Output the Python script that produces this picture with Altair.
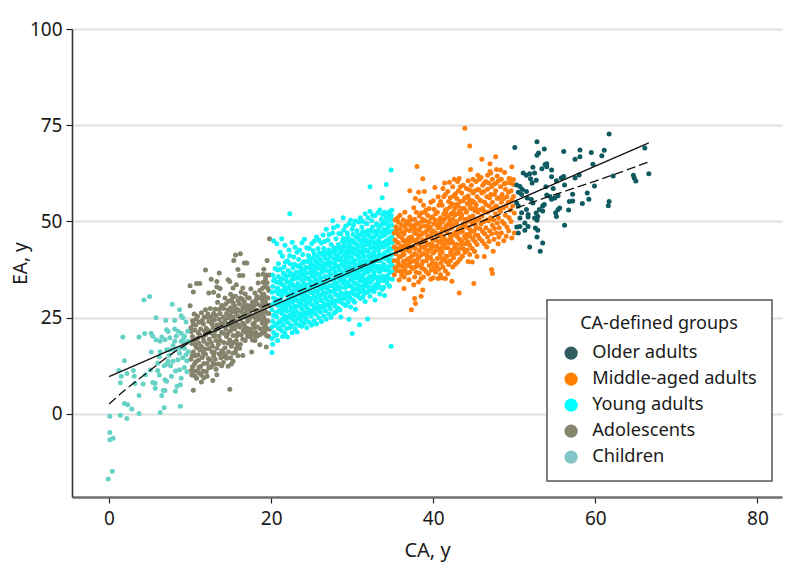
import altair as alt
import pandas as pd

children = [(-0.1,-16.9),(0.4,-14.9),(0.1,-6.7),(0.5,-6.3),(0.1,-4.8),(0.1,-0.6),(1.4,-0.3),(2.2,-1.2),(2.8,1.3),(3.7,0.1),
(1.9,2.7),(2.3,2.4),(3.7,4.8),(6.3,0.4),(6.8,1.6),(8.8,2.0),(1.4,8.1),(1.5,9.8),(1.2,11.3),(2.2,10.5),(3.0,11.3),(1.9,13.8),
(3.1,9.8),(3.2,7.9),(4.2,7.8),(4.5,10.2),(5.1,11.4),(5.4,8.2),(5.7,8.0),(5.7,6.7),(6.0,11.3),(6.2,10.1),(6.9,8.9),(7.1,8.5),
(6.7,6.1),(6.9,6.1),(6.5,4.8),(8.2,5.9),(8.4,7.2),(8.8,7.6),(8.9,9.3),(8.2,11.2),(8.7,11.5),(9.3,12.1),(7.7,9.8),(6.8,12.5),
(7.1,12.9),(7.6,12.5),(7.3,13.7),(7.9,13.7),(8.5,14.1),(6.0,13.2),(6.2,14.9),(6.3,16.2),(5.2,16.1),(7.1,16.7),(7.5,16.7),
(8.1,16.7),(8.7,17.1),(9.3,17.1),(9.5,15.4),(9.1,14.6),(8.7,15.8),(6.9,19.3),(7.1,21.9),(7.3,21.4),(7.0,24.3),(8.1,24.3),
(8.9,25.5),(8.7,27.1),(7.8,28.5),(5.0,30.5),(4.3,29.6),(5.8,25.0),(1.7,20.0),(3.7,20.0),(4.4,20.9),(5.2,21.0),(5.4,20.2),
(5.8,19.3),(6.3,18.9),(6.5,20.0),(8.1,22.1),(8.5,21.5),(8.9,21.0),(9.3,20.2),(9.7,21.5),(8.3,20.2),(8.9,18.9),(8.1,18.9),
(9.3,18.4),(7.9,17.8),(9.5,23.9),(9.1,25.0),(9.6,13.8),(9.8,16.2),(9.2,19.6),(7.5,19.8),(7.4,15.2),(9.8,18.9),(9.6,11.0)]

adolescents = [(10.4,6.2),(14.9,6.4),(11.4,8.3),(12.8,8.7),(13.3,10.2),(11.9,37.4),(13.6,36.6),(10.0,33.3),(10.8,33.9),(11.2,33.9),
(10.4,31.7),(10.0,28.1),(12.6,35.0),(13.3,34.4),(13.3,33.0),(13.7,32.6),(12.3,31.4),(12.9,31.6),(13.5,30.7),(14.7,34.9),(14.9,34.4),
(15.6,41.3),(16.2,41.6),(15.4,39.9),(16.7,39.2),(17.0,39.2),(15.9,37.5),(16.1,36.0),(16.5,36.0),(15.7,33.6),(15.3,32.7),(16.5,32.7),
(17.5,32.5),(18.4,36.2),(19.0,36.3),(19.4,36.1),(19.1,37.6),(19.5,39.9),(19.8,45.5),(18.4,34.0),(19.0,34.2),(18.0,31.4),(19.0,29.7),
(17.6,16.1),(18.6,18.0),(19.4,17.4),(16.5,15.2),(15.9,15.1),(15.3,13.7),(14.5,14.5),(13.9,12.5),(14.7,12.4),(15.1,13.0),(16.1,17.1),(15.7,17.0),
(10.2,10.1),(10.3,12.3),(10.1,14.2),(10.4,16.1),(10.2,18.3),(10.3,20.1),(10.1,22.4),(10.3,24.2),(10.5,26.0),
(10.8,9.3),(10.9,11.2),(10.7,13.6),(11.0,15.4),(10.8,17.2),(10.9,19.6),(11.0,21.1),(10.7,23.1),(10.9,25.4),
(11.4,10.1),(11.3,12.4),(11.5,14.7),(11.4,17.5),(11.6,19.8),(11.3,22.1),(11.5,24.2),(11.4,26.3),
(12.0,11.0),(12.1,13.1),(11.9,15.5),(12.1,18.2),(11.9,20.6),(12.0,22.3),(12.1,25.1),(11.9,27.1),
(12.6,12.2),(12.5,14.1),(12.7,16.2),(12.6,18.6),(12.5,21.1),(12.7,23.4),(12.6,25.2),(12.5,27.4),
(13.2,11.6),(13.1,14.2),(13.3,17.1),(13.2,19.1),(13.1,21.6),(13.3,23.1),(13.2,25.6),(13.1,27.2),(13.4,29.0),
(13.8,14.6),(13.9,16.4),(13.7,19.1),(13.9,21.2),(13.8,23.6),(13.7,26.1),(13.9,28.2),
(14.4,15.1),(14.3,17.2),(14.5,20.1),(14.4,22.1),(14.3,24.2),(14.5,26.1),(14.4,28.6),(14.3,30.1),
(15.0,14.6),(15.1,17.6),(14.9,19.2),(15.0,21.6),(15.1,24.1),(14.9,25.6),(15.0,27.6),(15.1,29.6),(15.0,31.1),
(15.6,16.1),(15.7,19.1),(15.5,22.1),(15.6,24.1),(15.7,26.2),(15.5,28.1),(15.6,30.6),
(16.2,18.1),(16.3,20.6),(16.1,22.6),(16.2,24.6),(16.3,26.6),(16.1,28.6),(16.2,30.1),(16.3,31.6),
(16.8,19.1),(16.9,21.2),(16.7,23.1),(16.8,25.2),(16.9,27.1),(16.7,29.1),(16.8,31.2),
(17.4,20.1),(17.5,22.1),(17.3,24.6),(17.4,26.6),(17.5,28.1),(17.3,30.1),
(18.0,19.1),(18.1,21.2),(17.9,23.6),(18.0,27.1),(18.1,29.6),
(18.6,20.6),(18.7,22.1),(18.5,24.6),(18.6,26.1),(18.7,28.1),(18.5,30.1),(18.6,32.1),
(19.2,21.1),(19.3,23.1),(19.1,25.1),(19.2,27.1),(19.3,29.1),(19.1,31.1),(19.2,33.1),(19.3,35.1),
(19.7,20.1),(19.8,22.1),(19.6,24.1),(19.7,26.1),(19.8,28.1),(19.6,30.1),(19.7,32.1),(19.8,36.1),
(10.5,11.1),(10.6,15.1),(10.6,19.1),(11.1,12.1),(11.2,16.6),(11.2,20.6),(11.7,13.1),(11.8,21.5),(11.8,16.8),(12.3,12.0),(12.3,17.0),(12.3,24.0),(12.9,15.1),(12.9,20.2),(12.9,26.1),
(13.5,13.0),(13.5,18.1),(13.5,22.2),(13.6,24.6),(14.1,16.0),(14.1,21.0),(14.1,25.2),(14.7,18.4),(14.7,23.1),(14.7,27.0),(15.3,20.4),(15.3,25.1),(15.3,28.8),(15.9,21.0),(15.9,27.1),(15.9,29.4),
(16.5,23.6),(16.5,27.6),(17.1,20.1),(17.1,24.1),(17.1,28.2),(17.7,21.1),(17.7,25.4),(17.7,29.0),(18.3,25.1),(18.3,28.6),(18.9,23.6),(18.9,27.1),(18.9,31.1),(19.5,22.1),(19.5,28.2),(19.5,34.1),(16.5,19.4),(14.1,13.4),(12.1,9.8),(11.7,9.4),
(10.15,11.3),(10.25,15.2),(10.35,19.3),(10.15,21.4),(10.4,23.3),(10.6,9.9),(10.55,13.0),(10.65,17.9),(10.6,21.8),(10.75,24.6),(11.15,10.6),(11.05,14.0),(11.1,18.4),(11.15,23.8),(11.6,11.2),(11.65,15.9),(11.7,18.9),(11.65,23.4),(11.75,25.2),
(12.25,14.4),(12.35,19.4),(12.3,21.6),(12.2,26.0),(12.85,13.1),(12.75,17.6),(12.85,22.4),(12.8,24.4),(13.05,12.9),(13.0,16.0),(13.05,20.4),(13.0,24.4),(13.6,15.6),(13.55,20.2),(13.6,27.2),(14.05,14.9),(14.15,18.6),(14.1,23.2),(14.15,27.4),
(14.75,16.1),(14.65,20.9),(14.7,25.0),(14.7,29.2),(15.3,15.8),(15.35,18.6),(15.25,22.9),(15.35,26.9),(15.3,30.4),(15.85,18.0),(15.95,23.2),(15.9,25.4),(16.55,21.7),(16.5,25.6),(16.45,29.8),(17.05,22.3),(17.1,26.3),(17.1,30.2),
(17.7,19.2),(17.75,23.4),(17.7,27.4),(18.25,20.2),(18.3,22.6),(18.35,26.8),(18.25,30.5),(18.9,21.0),(18.85,25.4),(18.95,29.2),(18.9,32.6),(19.45,20.3),(19.5,24.2),(19.45,26.3),(19.5,30.2),(19.55,32.8),(19.4,36.0),
(15.15,18.5),(15.15,22.6),(15.15,26.5),(15.75,20.3),(15.75,23.1),(15.75,27.2),(16.65,22.0),(16.65,26.0),(16.65,28.0),(17.25,21.2),(17.25,25.6),(17.25,27.4),(17.95,20.4),(17.95,22.4),(17.95,25.2),(17.95,28.4),(18.15,24.4),(18.15,26.2),(19.05,22.2),(19.05,24.2),(19.05,26.4),(19.05,28.2),(19.05,30.4)]

young = [(22.3,52.0),(32.2,59.0),(34.2,59.6),(33.7,56.2),(34.8,63.4),(34.8,17.6),(30.0,20.9),(30.9,23.2),(31.9,24.7),(29.6,24.6),
(20.1,16.0),(20.2,18.1),(20.1,19.6),(20.3,21.2),(20.1,22.6),(20.2,24.1),(20.3,25.6),(20.1,27.1),(20.2,28.6),(20.3,30.1),(20.1,31.6),(20.2,33.1),(20.3,34.6),(20.2,36.1),(20.3,45.0),(20.7,44.2),
(20.8,19.1),(20.7,20.6),(20.9,22.2),(20.8,23.6),(20.7,25.2),(20.9,26.7),(20.8,28.2),(20.7,29.7),(20.9,31.2),(20.8,32.7),(20.7,34.2),(20.9,35.7),(20.8,37.4),(20.9,39.0),
(21.4,20.1),(21.3,21.6),(21.5,23.1),(21.4,24.6),(21.3,26.1),(21.5,27.6),(21.4,29.1),(21.3,30.6),(21.5,32.1),(21.4,33.6),(21.3,35.1),(21.5,36.6),(21.4,41.0),(21.3,45.5),(21.6,38.2),
(22.0,20.0),(21.9,22.2),(22.1,23.7),(22.0,25.2),(21.9,26.7),(22.1,28.2),(22.0,29.7),(21.9,31.2),(22.1,32.7),(22.0,34.2),(21.9,35.7),(22.1,37.2),(22.0,39.8),(22.2,42.6),
(22.6,21.1),(22.5,23.0),(22.7,24.5),(22.6,26.0),(22.5,27.5),(22.7,29.0),(22.6,30.5),(22.5,32.0),(22.7,33.5),(22.6,35.0),(22.5,36.5),(22.7,38.0),(22.6,44.6),(22.8,40.8),
(23.2,21.3),(23.1,23.4),(23.3,24.9),(23.2,26.4),(23.1,27.9),(23.3,29.4),(23.2,30.9),(23.1,32.4),(23.3,33.9),(23.2,35.4),(23.1,36.9),(23.3,38.4),(23.2,42.0),(23.4,40.1),
(23.8,22.8),(23.7,24.2),(23.9,25.7),(23.8,27.2),(23.7,28.7),(23.9,30.2),(23.8,31.7),(23.7,33.2),(23.9,34.7),(23.8,36.2),(23.7,37.7),(23.9,39.2),(23.8,44.5),(23.9,41.4),
(24.4,22.4),(24.3,24.6),(24.5,26.1),(24.4,27.6),(24.3,29.1),(24.5,30.6),(24.4,32.1),(24.3,33.6),(24.5,35.1),(24.4,36.6),(24.3,38.1),(24.5,39.6),(24.4,43.2),(24.6,41.2),
(25.0,23.1),(24.9,25.4),(25.1,26.9),(25.0,28.4),(24.9,29.9),(25.1,31.4),(25.0,32.9),(24.9,34.4),(25.1,35.9),(25.0,37.4),(24.9,38.9),(25.1,40.4),(25.0,44.2),(25.2,42.4),
(25.6,23.4),(25.5,25.9),(25.7,27.4),(25.6,28.9),(25.5,30.4),(25.7,31.9),(25.6,33.4),(25.5,34.9),(25.7,36.4),(25.6,37.9),(25.5,39.4),(25.7,40.9),(25.6,46.0),(25.8,43.0),
(26.2,24.0),(26.1,26.4),(26.3,27.9),(26.2,29.4),(26.1,30.9),(26.3,32.4),(26.2,33.9),(26.1,35.4),(26.3,36.9),(26.2,38.4),(26.1,39.9),(26.3,41.4),(26.2,44.4),(26.4,46.5),(26.5,43.0),
(26.8,24.6),(26.7,26.8),(26.9,28.3),(26.8,29.8),(26.7,31.3),(26.9,32.8),(26.8,34.3),(26.7,35.8),(26.9,37.3),(26.8,38.8),(26.7,40.3),(26.9,41.8),(26.8,48.0),(27.0,45.2),
(27.4,25.1),(27.3,27.3),(27.5,28.8),(27.4,30.3),(27.3,31.8),(27.5,33.3),(27.4,34.8),(27.3,36.3),(27.5,37.8),(27.4,39.3),(27.3,40.8),(27.5,42.3),(27.4,44.0),(27.6,50.2),(27.6,47.0),
(28.0,26.6),(27.9,28.0),(28.1,29.5),(28.0,31.0),(27.9,32.5),(28.1,34.0),(28.0,35.5),(27.9,37.0),(28.1,38.5),(28.0,40.0),(27.9,41.5),(28.1,43.0),(28.0,45.5),(28.2,48.8),
(28.6,25.2),(28.5,27.0),(28.7,29.9),(28.6,31.4),(28.5,32.9),(28.7,34.4),(28.6,35.9),(28.5,37.4),(28.7,38.9),(28.6,40.4),(28.5,41.9),(28.7,43.4),(28.6,46.8),(28.8,44.9),(28.9,51.0),
(29.2,28.2),(29.1,30.0),(29.3,31.5),(29.2,33.0),(29.1,34.5),(29.3,36.0),(29.2,37.5),(29.1,39.0),(29.3,40.5),(29.2,42.0),(29.1,43.5),(29.3,45.0),(29.2,48.8),(29.4,47.0),
(29.8,27.8),(29.7,30.2),(29.9,31.7),(29.8,33.2),(29.7,34.7),(29.9,36.2),(29.8,37.7),(29.7,39.2),(29.9,40.7),(29.8,42.2),(29.7,43.7),(29.9,45.2),(29.8,50.3),(30.0,48.0),(30.1,46.6),
(30.4,27.2),(30.3,29.0),(30.5,32.4),(30.4,33.9),(30.3,35.4),(30.5,36.9),(30.4,38.4),(30.3,39.9),(30.5,41.4),(30.4,42.9),(30.3,44.4),(30.5,45.9),(30.4,50.1),(30.6,47.6),(30.4,31.0),
(31.0,30.0),(30.9,31.6),(31.1,33.1),(31.0,34.6),(30.9,36.1),(31.1,37.6),(31.0,39.1),(30.9,40.6),(31.1,42.1),(31.0,43.6),(30.9,45.1),(31.1,46.6),(31.0,51.0),(31.2,48.6),
(31.6,29.2),(31.5,31.3),(31.7,33.4),(31.6,34.9),(31.5,36.4),(31.7,37.9),(31.6,39.4),(31.5,40.9),(31.7,42.4),(31.6,43.9),(31.5,45.4),(31.7,46.9),(31.6,52.0),(31.8,49.4),
(32.2,30.6),(32.1,32.4),(32.3,34.2),(32.2,35.7),(32.1,37.2),(32.3,38.7),(32.2,40.2),(32.1,41.7),(32.3,43.2),(32.2,44.7),(32.1,46.2),(32.3,47.7),(32.2,52.6),(32.4,50.2),
(32.8,29.6),(32.7,31.8),(32.9,33.6),(32.8,35.4),(32.7,36.9),(32.9,38.4),(32.8,39.9),(32.7,41.4),(32.9,42.9),(32.8,44.4),(32.7,45.9),(32.9,47.4),(32.8,51.5),(33.0,49.4),
(33.4,31.2),(33.3,33.4),(33.5,35.4),(33.4,36.9),(33.3,38.4),(33.5,39.9),(33.4,41.4),(33.3,42.9),(33.5,44.4),(33.4,45.9),(33.3,47.4),(33.5,48.9),(33.4,53.0),(33.6,50.6),
(34.0,30.8),(33.9,32.9),(34.1,35.0),(34.0,37.4),(33.9,38.9),(34.1,40.4),(34.0,41.9),(33.9,43.4),(34.1,44.9),(34.0,46.4),(33.9,47.9),(34.1,49.4),(34.0,52.4),(34.2,51.0),
(34.6,33.2),(34.5,35.2),(34.7,36.8),(34.6,38.3),(34.5,39.8),(34.7,41.3),(34.6,42.8),(34.5,44.3),(34.7,45.8),(34.6,47.3),(34.5,48.8),(34.7,50.3),(34.6,52.5),
(34.95,35.0),(34.9,37.0),(34.95,38.5),(34.9,40.0),(34.95,41.5),(34.9,43.0),(34.95,44.5),(34.9,46.0),(34.95,47.5),(34.9,49.0),(34.95,50.5),(34.9,53.0),
(20.5,20.4),(20.45,23.0),(20.55,26.3),(20.5,29.0),(20.6,31.9),(20.4,35.0),(20.5,37.8),(21.1,22.4),(21.05,24.0),(21.15,27.0),(21.1,29.4),(21.0,32.0),(21.15,34.6),(21.1,37.6),(21.1,42.0),
(21.7,21.0),(21.65,25.4),(21.75,28.6),(21.7,31.6),(21.7,33.0),(21.65,36.2),(21.75,39.4),(21.7,43.8),(22.3,22.4),(22.35,25.7),(22.3,28.8),(22.25,30.6),(22.35,33.3),(22.3,36.1),(22.35,39.0),(22.3,41.1),
(22.95,22.1),(22.9,25.6),(22.85,27.9),(22.9,31.2),(22.95,33.0),(22.85,36.0),(22.9,38.9),(22.95,43.3),(23.5,23.0),(23.55,26.0),(23.45,28.3),(23.5,31.0),(23.6,33.2),(23.5,36.0),(23.55,38.6),(23.5,42.6),
(24.1,23.6),(24.05,26.4),(24.15,29.6),(24.1,31.1),(24.05,33.9),(24.15,36.9),(24.1,39.6),(24.1,45.4),(24.7,23.8),(24.65,27.0),(24.75,30.0),(24.7,32.4),(24.65,35.2),(24.75,37.9),(24.7,40.6),(24.7,43.0),
(25.3,24.2),(25.35,27.7),(25.25,30.3),(25.3,33.0),(25.35,35.6),(25.25,38.4),(25.3,41.4),(25.3,44.9),(25.9,25.0),(25.95,28.0),(25.85,31.0),(25.9,33.8),(25.95,36.2),(25.85,38.9),(25.9,41.8),(25.9,45.1),
(26.5,25.4),(26.55,28.6),(26.45,31.4),(26.5,34.0),(26.55,37.4),(26.5,39.0),(26.45,42.0),(26.6,44.8),(27.1,26.0),(27.15,29.1),(27.05,32.0),(27.1,34.9),(27.15,37.0),(27.05,39.8),(27.1,42.6),(27.15,46.6),
(27.75,26.2),(27.7,29.4),(27.8,32.2),(27.75,35.0),(27.7,37.8),(27.8,40.3),(27.75,43.2),(27.7,48.4),(28.3,27.4),(28.35,30.6),(28.25,33.2),(28.3,36.2),(28.35,38.2),(28.25,41.0),(28.3,44.0),(28.35,46.9),
(28.9,28.6),(28.95,31.2),(28.85,34.0),(28.9,36.6),(28.95,39.7),(28.85,42.4),(28.9,45.6),(28.95,47.8),(29.5,29.0),(29.55,31.0),(29.45,33.9),(29.5,36.8),(29.55,39.6),(29.5,42.9),(29.45,45.9),(29.6,49.4),
(30.1,29.6),(30.15,32.6),(30.05,35.0),(30.1,37.9),(30.15,40.0),(30.05,43.1),(30.1,44.9),(30.15,49.1),(30.7,30.6),(30.75,33.4),(30.65,36.0),(30.7,38.6),(30.75,41.0),(30.65,43.9),(30.7,46.4),(30.8,49.9),
(31.3,30.4),(31.35,33.0),(31.25,35.6),(31.3,38.4),(31.35,41.4),(31.25,44.6),(31.3,47.4),(31.35,50.0),(31.9,31.6),(31.95,34.2),(31.85,36.9),(31.9,39.6),(31.95,42.6),(31.85,45.0),(31.9,47.6),(31.95,51.0),
(32.5,32.0),(32.55,35.0),(32.45,37.8),(32.5,40.8),(32.55,43.4),(32.45,45.8),(32.5,48.6),(32.55,51.6),(33.1,32.8),(33.15,35.6),(33.05,38.0),(33.1,41.0),(33.15,43.9),(33.05,46.6),(33.1,49.0),(33.15,52.2),
(33.7,32.4),(33.75,34.6),(33.65,37.8),(33.7,40.6),(33.75,43.6),(33.65,46.2),(33.7,49.4),(33.75,51.8),(34.3,34.0),(34.35,36.0),(34.25,38.2),(34.3,41.0),(34.35,43.8),(34.25,47.0),(34.3,49.6),(34.35,52.0),(34.75,39.2),(34.75,44.6),(34.8,51.6),
(21.2,23.9),(21.25,26.7),(21.2,28.3),(21.25,31.1),(21.2,33.9),(21.85,24.2),(21.8,27.2),(21.85,29.0),(21.8,32.2),(21.85,34.8),(22.45,25.0),(22.45,27.0),(22.45,29.9),(22.4,31.4),(22.45,34.4),(23.0,24.0),(23.0,26.8),(23.0,29.9),(23.05,32.4),(23.0,35.2),
(23.65,25.2),(23.65,27.8),(23.6,29.6),(23.65,32.2),(23.6,35.2),(23.65,37.0),(24.2,25.4),(24.25,28.2),(24.2,30.0),(24.25,32.8),(24.2,35.6),(24.25,38.0),(24.85,26.2),(24.8,28.8),(24.85,31.6),(24.8,33.8),(24.85,36.6),(24.8,39.4),
(25.4,26.6),(25.45,29.4),(25.4,31.8),(25.45,34.2),(25.4,37.0),(25.45,39.9),(26.0,27.0),(26.05,29.8),(26.0,32.8),(26.05,35.0),(26.0,37.8),(26.05,40.2),(26.6,27.4),(26.65,30.2),(26.6,33.0),(26.65,35.6),(26.6,38.2),(26.65,41.0),
(27.2,28.2),(27.25,30.6),(27.2,33.4),(27.25,36.0),(27.2,38.6),(27.25,41.4),(27.85,29.0),(27.85,31.4),(27.85,33.8),(27.85,36.6),(27.85,39.0),(27.85,42.2),(28.45,29.2),(28.4,32.4),(28.45,35.0),(28.4,37.8),(28.45,40.0),(28.4,42.6),
(29.0,30.2),(29.05,32.8),(29.0,35.4),(29.05,38.2),(29.0,41.2),(29.05,43.8),(29.6,30.6),(29.65,33.4),(29.6,36.0),(29.65,38.4),(29.6,41.4),(29.65,44.4),(30.2,31.2),(30.25,34.0),(30.2,36.6),(30.25,39.2),(30.2,41.8),(30.25,44.6),
(30.8,32.2),(30.85,35.0),(30.8,37.2),(30.85,40.0),(30.8,42.4),(30.85,45.4),(31.4,32.0),(31.45,34.2),(31.4,37.0),(31.45,39.8),(31.4,42.8),(31.45,46.0),(32.0,33.0),(32.05,35.4),(32.0,38.2),(32.05,41.0),(32.0,44.0),(32.05,46.8),
(32.6,33.0),(32.65,36.2),(32.6,39.2),(32.65,42.0),(32.6,44.6),(32.65,47.2),(33.2,34.4),(33.25,37.2),(33.2,39.8),(33.25,42.4),(33.2,45.0),(33.25,47.8),(33.8,35.8),(33.85,38.4),(33.8,41.2),(33.85,44.4),(33.8,47.0),(33.85,50.0),(34.4,37.4),(34.45,40.0),(34.4,42.4),(34.45,45.2),(34.4,48.2),(34.45,50.8)]

middle = [(43.9,74.2),(44.5,69.6),(38.0,64.3),(38.7,61.1),(37.1,58.0),(46.0,66.2),(47.7,66.8),(47.0,65.0),(44.6,63.5),(47.8,63.5),(48.3,63.4),
(48.8,62.7),(49.7,64.2),(47.0,63.0),(37.3,27.1),(37.8,28.7),(37.7,30.0),(38.5,30.6),(38.7,32.2),(36.4,32.6),(43.2,31.4),(45.0,33.9),(47.2,37.5),(47.3,36.5),
(42.3,34.5),(41.5,35.2),(41.1,35.3),(49.7,45.7),(50.0,47.0),(50.0,52.2),(48.0,44.2),(47.4,42.3),(46.3,40.9),(45.4,40.9),(44.5,41.4),(44.8,39.5),(44.3,39.6),(49.9,60.9),(49.5,61.1),
(35.2,36.2),(35.3,38.0),(35.2,39.8),(35.4,41.6),(35.2,43.4),(35.3,45.2),(35.2,47.0),(35.4,48.6),(35.3,50.4),
(35.8,34.8),(35.9,37.1),(35.7,39.0),(35.8,40.8),(35.9,42.6),(35.7,44.4),(35.8,46.2),(35.9,48.0),(35.7,49.8),(35.9,51.6),
(36.4,35.6),(36.5,37.6),(36.3,39.6),(36.4,41.4),(36.5,43.2),(36.3,45.0),(36.4,46.8),(36.5,48.6),(36.3,50.4),(36.5,52.4),
(37.0,34.9),(37.1,36.8),(36.9,38.6),(37.0,40.4),(37.1,42.2),(36.9,44.0),(37.0,45.8),(37.1,47.6),(36.9,49.4),(37.1,51.2),
(37.6,33.6),(37.7,35.6),(37.5,37.8),(37.6,39.8),(37.7,41.6),(37.5,43.4),(37.6,45.2),(37.7,47.0),(37.5,48.8),(37.7,50.6),(37.6,53.6),(37.8,56.0),
(38.2,34.3),(38.3,36.6),(38.1,38.6),(38.2,40.6),(38.3,42.4),(38.1,44.2),(38.2,46.0),(38.3,47.8),(38.1,49.6),(38.3,51.4),(38.4,55.4),(38.2,57.6),
(38.8,35.6),(38.9,37.6),(38.7,39.6),(38.8,41.6),(38.9,43.4),(38.7,45.2),(38.8,47.0),(38.9,48.8),(38.7,50.6),(38.9,52.4),(38.8,54.2),(38.9,57.8),
(39.4,36.4),(39.5,38.6),(39.3,40.4),(39.4,42.2),(39.5,44.0),(39.3,46.2),(39.4,48.0),(39.5,49.8),(39.3,51.6),(39.5,53.4),
(40.0,35.4),(40.1,37.8),(39.9,39.8),(40.0,41.8),(40.1,43.6),(39.9,45.4),(40.0,47.6),(40.1,49.4),(39.9,51.2),(40.1,53.2),(40.0,55.4),(40.2,58.8),
(40.6,35.2),(40.7,37.6),(40.5,40.4),(40.6,42.6),(40.7,44.6),(40.5,46.4),(40.6,48.4),(40.7,50.2),(40.5,52.4),(40.7,54.2),(40.6,56.4),
(41.2,38.2),(41.3,40.2),(41.1,42.0),(41.2,44.0),(41.3,46.0),(41.1,48.0),(41.2,50.0),(41.3,52.0),(41.1,54.2),(41.3,56.4),(41.2,58.6),(41.4,60.0),
(41.8,36.4),(41.9,38.8),(41.7,41.0),(41.8,43.2),(41.9,45.2),(41.7,47.2),(41.8,49.2),(41.9,51.2),(41.7,53.2),(41.9,55.2),(41.8,57.8),(42.0,60.2),
(42.4,38.2),(42.5,40.6),(42.3,42.6),(42.4,44.6),(42.5,46.6),(42.3,48.6),(42.4,50.6),(42.5,52.6),(42.3,54.6),(42.5,56.6),(42.4,59.0),(42.6,61.0),
(43.0,39.4),(43.1,41.8),(42.9,44.0),(43.0,46.0),(43.1,48.0),(42.9,50.0),(43.0,52.0),(43.1,54.0),(42.9,56.0),(43.1,58.0),(43.0,60.4),(43.2,61.2),
(43.6,41.0),(43.7,43.0),(43.5,45.0),(43.6,47.4),(43.7,49.4),(43.5,51.4),(43.6,53.4),(43.7,55.4),(43.5,57.4),(43.7,59.4),
(44.2,42.6),(44.3,44.6),(44.1,46.6),(44.2,48.6),(44.3,50.6),(44.1,52.6),(44.2,54.6),(44.3,56.6),(44.1,58.6),(44.3,60.6),
(44.8,43.0),(44.9,45.4),(44.7,47.4),(44.8,49.4),(44.9,51.4),(44.7,53.4),(44.8,55.4),(44.9,57.4),(44.7,59.4),(44.9,61.0),
(45.4,44.0),(45.5,46.4),(45.3,48.4),(45.4,50.4),(45.5,52.4),(45.3,54.4),(45.4,56.4),(45.5,58.4),(45.3,60.4),(45.5,62.0),
(46.0,45.0),(46.1,47.4),(45.9,49.4),(46.0,51.4),(46.1,53.4),(45.9,55.4),(46.0,57.4),(46.1,59.4),(45.9,61.4),
(46.6,43.4),(46.7,46.0),(46.5,48.4),(46.6,50.4),(46.7,52.4),(46.5,54.4),(46.6,56.4),(46.7,58.4),(46.5,60.4),(46.7,62.0),
(47.2,46.8),(47.3,49.0),(47.1,51.0),(47.2,53.0),(47.3,55.0),(47.1,57.0),(47.2,59.0),(47.3,61.0),(47.1,62.6),
(47.8,47.0),(47.9,49.6),(47.7,52.0),(47.8,54.0),(47.9,56.0),(47.7,58.0),(47.8,60.0),(47.9,61.8),
(48.4,47.0),(48.5,50.0),(48.3,52.6),(48.4,55.0),(48.5,57.0),(48.3,59.0),(48.4,61.0),
(49.0,46.2),(49.1,48.6),(48.9,51.6),(49.0,54.0),(49.1,56.4),(48.9,58.4),(49.0,60.0),
(49.6,50.0),(49.5,53.0),(49.7,55.6),(49.6,58.0),(49.5,60.0),(49.9,59.6),(49.9,56.5),(49.8,54.0),
(35.5,37.2),(35.6,39.9),(35.45,42.4),(35.55,44.6),(35.5,47.8),(35.6,51.0),(36.1,36.0),(36.15,38.4),(36.05,41.0),(36.1,43.6),(36.15,45.8),(36.05,49.1),(36.75,36.6),(36.7,40.0),(36.8,42.6),(36.75,45.1),(36.7,47.8),(36.8,50.0),
(37.3,38.1),(37.35,41.0),(37.25,43.3),(37.3,46.0),(37.35,48.2),(37.25,50.4),(37.9,36.8),(37.95,39.2),(37.85,41.4),(37.9,44.4),(37.95,46.8),(37.85,49.2),(37.9,52.4),(38.5,35.2),(38.55,38.0),(38.45,41.2),(38.5,43.4),(38.55,46.6),(38.45,48.7),(38.5,52.2),
(39.1,37.0),(39.15,39.8),(39.05,42.8),(39.1,45.2),(39.15,47.4),(39.05,50.2),(39.1,53.0),(39.7,35.0),(39.75,37.4),(39.65,40.8),(39.7,43.0),(39.75,45.9),(39.65,48.6),(39.7,51.0),(39.7,55.0),
(40.3,36.8),(40.35,39.0),(40.25,42.4),(40.3,45.2),(40.35,47.0),(40.25,50.4),(40.3,52.0),(40.9,36.2),(40.95,39.2),(40.85,41.4),(40.9,45.0),(40.95,47.0),(40.85,49.2),(40.9,51.0),(40.9,55.2),
(41.5,37.2),(41.55,41.0),(41.45,43.2),(41.5,45.0),(41.55,48.8),(41.45,50.8),(41.5,53.0),(41.5,57.0),(42.1,39.8),(42.15,42.0),(42.05,44.4),(42.1,46.4),(42.15,48.2),(42.05,50.2),(42.1,53.8),(42.1,56.2),
(42.7,38.8),(42.75,41.6),(42.65,43.6),(42.7,47.2),(42.75,49.2),(42.65,51.6),(42.7,53.6),(42.75,57.2),(43.3,40.2),(43.35,43.0),(43.25,45.4),(43.3,47.2),(43.35,50.8),(43.25,52.8),(43.3,55.2),(43.35,59.0),
(43.9,42.0),(43.95,44.2),(43.85,46.2),(43.9,48.6),(43.95,50.6),(43.85,53.4),(43.9,56.2),(44.5,43.8),(44.55,46.2),(44.45,48.2),(44.5,51.2),(44.55,53.6),(44.45,55.6),(44.5,58.2),(45.1,42.2),(45.15,44.8),(45.05,47.6),(45.1,50.0),(45.15,52.8),(45.05,55.0),(45.1,58.0),
(45.7,45.6),(45.75,48.2),(45.65,50.8),(45.7,53.0),(45.75,55.6),(45.65,58.2),(45.7,61.0),(46.3,44.2),(46.35,46.8),(46.25,50.0),(46.3,52.6),(46.35,55.0),(46.25,57.8),(46.3,60.0),(46.9,44.8),(46.95,47.6),(46.85,50.2),(46.9,54.0),(46.95,56.2),(46.85,60.0),
(47.5,45.4),(47.55,48.2),(47.45,50.4),(47.5,53.6),(47.55,57.0),(47.45,59.6),(48.1,46.0),(48.15,48.4),(48.05,51.0),(48.1,53.4),(48.15,56.2),(48.05,60.6),(48.7,45.0),(48.75,49.4),(48.65,53.6),(48.7,56.0),(48.75,59.8),(49.3,47.6),(49.35,51.0),(49.25,55.0),(49.3,57.6),(49.35,61.2),
(35.65,38.4),(35.6,43.0),(35.65,46.8),(36.25,37.0),(36.25,42.2),(36.2,47.2),(36.6,38.8),(36.6,44.0),(36.6,49.2),(37.2,39.4),(37.2,44.8),(37.2,49.0),(37.8,38.2),(37.8,43.0),(37.8,48.0),(38.0,40.0),(38.0,45.2),(38.6,39.0),(38.6,44.6),(38.6,50.0),
(39.2,41.2),(39.2,44.0),(39.2,48.8),(39.8,38.8),(39.8,44.2),(39.8,47.0),(40.45,38.4),(40.45,43.6),(40.45,49.0),(41.0,40.4),(41.0,43.2),(41.0,46.2),(41.0,50.4),(41.6,39.6),(41.6,44.4),(41.6,47.8),(41.6,52.0),(42.2,41.4),(42.2,45.6),(42.2,49.4),(42.2,52.0),
(42.85,42.8),(42.85,46.4),(42.85,49.6),(42.85,54.4),(43.45,44.2),(43.45,48.4),(43.45,52.0),(44.05,45.6),(44.05,49.8),(44.05,52.4),(44.6,47.2),(44.6,50.2),(44.6,54.6),(45.2,46.4),(45.2,49.2),(45.2,53.6)]

older = [(50.06,69.2),(52.8,70.7),(53.7,68.8),(53.0,67.8),(52.8,67.2),(56.1,68.2),(58.1,68.6),(58.1,66.8),(57.5,66.2),(59.5,67.9),(61.1,68.5),(60.8,67.1),
(61.7,72.7),(66.1,69.1),(59.7,64.9),(66.6,62.4),(62.2,61.8),(64.7,62.0),(64.8,61.3),(65.0,60.5),(59.9,59.2),(59.0,57.4),(59.2,55.8),(58.4,54.7),(57.2,57.1),
(56.8,55.2),(57.2,55.3),(56.7,53.0),(61.7,55.2),(61.6,54.1),(56.2,49.0),(53.5,44.4),(53.2,42.3),(51.9,43.4),(52.8,46.0),(52.9,47.7),(52.6,48.3),(51.7,48.7),
(51.3,49.6),(51.3,47.7),(50.5,47.0),(50.3,48.6),(50.7,48.7),(52.3,64.1),(51.9,62.4),(52.5,62.6),(51.1,62.6),(51.5,62.0),(52.0,61.1),(52.7,60.7),(52.2,60.0),
(53.4,63.7),(53.8,64.8),(54.0,65.0),(54.0,64.2),(54.6,63.4),(54.6,61.6),(55.2,60.6),(55.8,61.3),(56.1,61.7),(57.5,61.3),(58.0,62.1),(56.2,59.5),(54.8,58.6),(53.9,59.0),
(50.3,59.5),(50.7,59.1),(51.0,58.3),(50.5,57.6),(51.5,57.8),(50.9,57.0),(51.6,56.1),(52.1,55.7),(52.3,54.8),(50.3,54.8),(50.5,54.0),(51.5,53.1),(50.9,52.3),
(51.7,51.8),(50.7,50.9),(51.7,51.2),(52.7,52.2),(52.9,51.3),(52.5,50.9),(52.8,50.3),(53.5,54.0),(53.7,54.4),(53.1,53.1),(53.5,52.7),(55.4,53.1),(55.1,52.3),
(55.2,51.3),(54.0,56.9),(54.4,56.5),(54.6,55.8),(55.4,56.7),(55.0,56.1),(55.6,53.5)]

groups = ["Older adults", "Middle-aged adults", "Young adults", "Adolescents", "Children"]
point_colors = ["#0d5b60", "#ff7f0e", "#0ff5f8", "#84846c", "#66d2c6"]
legend_colors = ["#2f5d62", "#ff7f00", "#00ffff", "#86866f", "#84c5c5"]
draw_order = [("Adolescents", adolescents), ("Children", children), ("Young adults", young), ("Middle-aged adults", middle), ("Older adults", older)]

linear_ca = [0, 66.6]
linear_ea = [9.7, 70.4]
fit_ca = [0, 2, 4, 6, 8, 10, 15, 20, 25, 30, 35, 40, 45, 50, 55, 60, 66.6]
fit_ea = [2.6, 6.3, 9.6, 12.9, 16.0, 18.7, 24.0, 28.8, 33.3, 37.6, 41.6, 45.4, 49.2, 53.3, 57.0, 60.5, 65.5]

rows = [{"CA": a, "EA": b, "group": g} for g, pts in draw_order for a, b in pts]
df = pd.DataFrame(rows)
font = "Noto Sans"

x_scale = alt.Scale(domain=[-4.57, 83.03], nice=False, zero=False)
y_scale = alt.Scale(domain=[-21.56, 100], nice=False, zero=False)

x_axis = alt.Axis(title="CA, y", values=[0, 20, 40, 60, 80], grid=False, domainColor="#6e6e6e", domainWidth=2.5,
                  tickColor="#222222", tickSize=6, tickWidth=1.2, labelFontSize=19, titleFontSize=20, labelFont=font, titleFont=font,
                  labelColor="#1a1a1a", titleColor="#1a1a1a", titleFontWeight="normal", labelPadding=6, titlePadding=12)
y_axis = alt.Axis(title="EA, y", values=[0, 25, 50, 75, 100], grid=True, gridColor="#e0e0e0", gridWidth=2,
                  domainColor="#333333", domainWidth=1.6, tickColor="#222222", tickSize=6, tickWidth=1.2,
                  labelFontSize=19, titleFontSize=19, labelFont=font, titleFont=font, labelColor="#1a1a1a", titleColor="#1a1a1a",
                  titleFontWeight="normal", labelPadding=4, titleX=-42)

legend = alt.Legend(title="CA-defined groups", orient="none", legendX=475, legendY=271, fillColor="white", strokeColor="#555555",
                    padding=15, symbolType="circle", symbolSize=177, symbolStrokeWidth=0, labelFont=font,
                    titleFont=font, labelFontSize=18.2, titleFontSize=18, titleFontWeight="normal", labelColor="#1a1a1a", titleColor="#1a1a1a",
                    rowPadding=7, labelOffset=12, titleAnchor="middle", titlePadding=11, labelLimit=300, cornerRadius=0)

base = alt.Chart(df)
legend_layer = base.mark_circle(size=1, opacity=1).encode(
    x=alt.X("CA:Q", scale=x_scale, axis=x_axis),
    y=alt.Y("EA:Q", scale=y_scale, axis=y_axis),
    fill=alt.Fill("group:N", scale=alt.Scale(domain=groups, range=legend_colors), legend=legend),
)
points = base.mark_circle(size=25, opacity=1).encode(
    x=alt.X("CA:Q", scale=x_scale),
    y=alt.Y("EA:Q", scale=y_scale),
    color=alt.Color("group:N", scale=alt.Scale(domain=groups, range=point_colors), legend=None),
)
linear = alt.Chart(pd.DataFrame({"CA": linear_ca, "EA": linear_ea})).mark_line(color="#111111", strokeWidth=1.3).encode(
    x=alt.X("CA:Q", scale=x_scale), y=alt.Y("EA:Q", scale=y_scale))
fit = alt.Chart(pd.DataFrame({"CA": fit_ca, "EA": fit_ea})).mark_line(color="#111111", strokeWidth=1.3, strokeDash=[9, 4], interpolate="monotone").encode(
    x=alt.X("CA:Q", scale=x_scale), y=alt.Y("EA:Q", scale=y_scale))

chart = alt.layer(legend_layer, points, fit, linear).properties(
    width=710, height=468,
    padding={"left": 64, "top": 21, "right": 4, "bottom": 75},
    autosize=alt.AutoSizeParams(type="none"),
    background="white",
).configure_view(stroke=None).configure_legend(strokeWidth=1.5)

chart.save("out.html", embed_options={"renderer": "svg", "actions": False})
